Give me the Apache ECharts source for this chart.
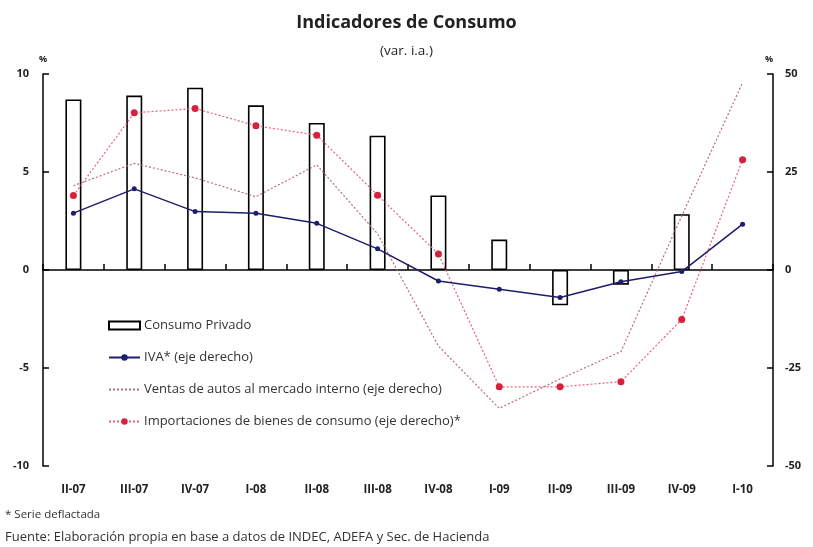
<!DOCTYPE html>
<html>
<head>
<meta charset="utf-8">
<script src="https://cdn.jsdelivr.net/npm/echarts@6/dist/echarts.min.js"></script>
<style>
html,body{margin:0;padding:0;background:#fff;}
#chart{width:813px;height:547px;}
</style>
</head>
<body>
<div id="chart"></div>
<script>
const categories = ['II-07','III-07','IV-07','I-08','II-08','III-08','IV-08','I-09','II-09','III-09','IV-09','I-10'];
const consumoPrivado = [8.7, 8.9, 9.3, 8.4, 7.5, 6.85, 3.8, 1.55, -1.8, -0.75, 2.85, null];
const iva = [14.5, 20.7, 14.9, 14.5, 11.9, 5.4, -2.8, -4.9, -7.0, -3.0, -0.4, 11.7];
const ventasAutos = [21.5, 27.2, 23.5, 18.7, 26.8, 9.2, -19.4, -35.3, -27.8, -20.8, 13.8, 47.8];
const importaciones = [19.0, 40.1, 41.2, 36.8, 34.4, 19.1, 4.1, -29.8, -29.8, -28.5, -12.6, 28.1];
const leftTicks = [-10, -5, 0, 5, 10];
const rightTicks = [-50, -25, 0, 25, 50];

const FONT = '"Open Sans", Lato, sans-serif';
const chart = echarts.init(document.getElementById('chart'));
chart.setOption({
  animation: false,
  backgroundColor: '#fff',
  title: {
    text: 'Indicadores de Consumo',
    subtext: '(var. i.a.)',
    left: 'center',
    top: 9,
    itemGap: 12,
    textStyle: {fontFamily: FONT, fontSize: 18, fontWeight: 'bold', color: '#222'},
    subtextStyle: {fontFamily: FONT, fontSize: 13.5, color: '#222'}
  },
  grid: {left: 43, right: 40, top: 74, bottom: 81},
  legend: {
    orient: 'vertical',
    left: 103,
    top: 314,
    itemWidth: 31,
    itemHeight: 8,
    itemGap: 19,
    textStyle: {fontFamily: FONT, fontSize: 13, color: '#333', padding: [0, 0, 0, -1]},
    data: [
      {name: 'Consumo Privado', icon: 'rect'},
      {name: 'IVA* (eje derecho)'},
      {name: 'Ventas de autos al mercado interno (eje derecho)', itemStyle: {opacity: 0}},
      {name: 'Importaciones de bienes de consumo (eje derecho)*'}
    ]
  },
  xAxis: [
    {
      type: 'category',
      data: categories,
      position: 'bottom',
      axisLine: {show: false, onZero: false},
      axisTick: {show: false},
      axisLabel: {fontFamily: FONT, fontSize: 11.5, fontWeight: 'bold', color: '#222', margin: 18, interval: 0},
      splitLine: {show: false}
    },
    {
      type: 'category',
      data: categories,
      position: 'bottom',
      axisLine: {show: true, onZero: true, lineStyle: {color: '#000', width: 1.5}},
      axisTick: {show: true, inside: true, length: 6, alignWithLabel: false, lineStyle: {color: '#000', width: 1.5}},
      axisLabel: {show: false},
      splitLine: {show: false}
    }
  ],
  yAxis: [
    {
      type: 'value',
      min: leftTicks[0], max: leftTicks[leftTicks.length - 1], interval: 5,
      name: '%', nameLocation: 'end', nameGap: 10,
      nameTextStyle: {fontFamily: FONT, fontSize: 9, fontWeight: 'bold', color: '#222'},
      axisLine: {show: true, lineStyle: {color: '#000', width: 1.5}},
      axisTick: {show: true, inside: true, length: 6, lineStyle: {color: '#000', width: 1.5}},
      axisLabel: {fontFamily: FONT, fontSize: 11, fontWeight: 'bold', color: '#222', margin: 14},
      splitLine: {show: false}
    },
    {
      type: 'value',
      min: rightTicks[0], max: rightTicks[rightTicks.length - 1], interval: 25,
      name: '%', nameLocation: 'end', nameGap: 10,
      nameTextStyle: {fontFamily: FONT, fontSize: 9, fontWeight: 'bold', color: '#222', padding: [0, 8, 0, 0]},
      axisLine: {show: true, lineStyle: {color: '#000', width: 1.5}},
      axisTick: {show: true, inside: true, length: 6, lineStyle: {color: '#000', width: 1.5}},
      axisLabel: {fontFamily: FONT, fontSize: 11, fontWeight: 'bold', color: '#222', margin: 12},
      splitLine: {show: false}
    }
  ],
  series: [
    {
      name: 'Consumo Privado',
      type: 'bar',
      xAxisIndex: 0, yAxisIndex: 0,
      data: consumoPrivado,
      barWidth: 16,
      itemStyle: {color: '#fff', borderColor: '#000', borderWidth: 1.6},
      z: 2
    },
    {
      name: 'Ventas de autos al mercado interno (eje derecho)',
      type: 'line',
      xAxisIndex: 0, yAxisIndex: 1,
      data: ventasAutos,
      symbol: 'none',
      lineStyle: {color: '#b87070', width: 1.2, type: [2, 2]},
      itemStyle: {color: '#c05858'},
      z: 3
    },
    {
      name: 'Importaciones de bienes de consumo (eje derecho)*',
      type: 'line',
      xAxisIndex: 0, yAxisIndex: 1,
      data: importaciones,
      symbol: 'circle',
      symbolSize: 7,
      lineStyle: {color: '#e8607a', width: 1.2, type: [2, 2]},
      itemStyle: {color: '#d8203c'},
      z: 4
    },
    {
      name: 'IVA* (eje derecho)',
      type: 'line',
      xAxisIndex: 0, yAxisIndex: 1,
      data: iva,
      symbol: 'circle',
      symbolSize: 5,
      lineStyle: {color: '#1e1e6a', width: 1.5},
      itemStyle: {color: '#1e1e6a'},
      z: 5
    }
  ],
  graphic: [
    {type: 'text', left: 5, top: 509, style: {text: '* Serie deflactada', fontFamily: FONT, fontSize: 11.5, fill: '#333'}},
    {type: 'text', left: 5, top: 531, style: {text: 'Fuente: Elaboración propia en base a datos de INDEC, ADEFA y Sec. de Hacienda', fontFamily: FONT, fontSize: 13, fill: '#333'}}
  ]
});
</script>
</body>
</html>
